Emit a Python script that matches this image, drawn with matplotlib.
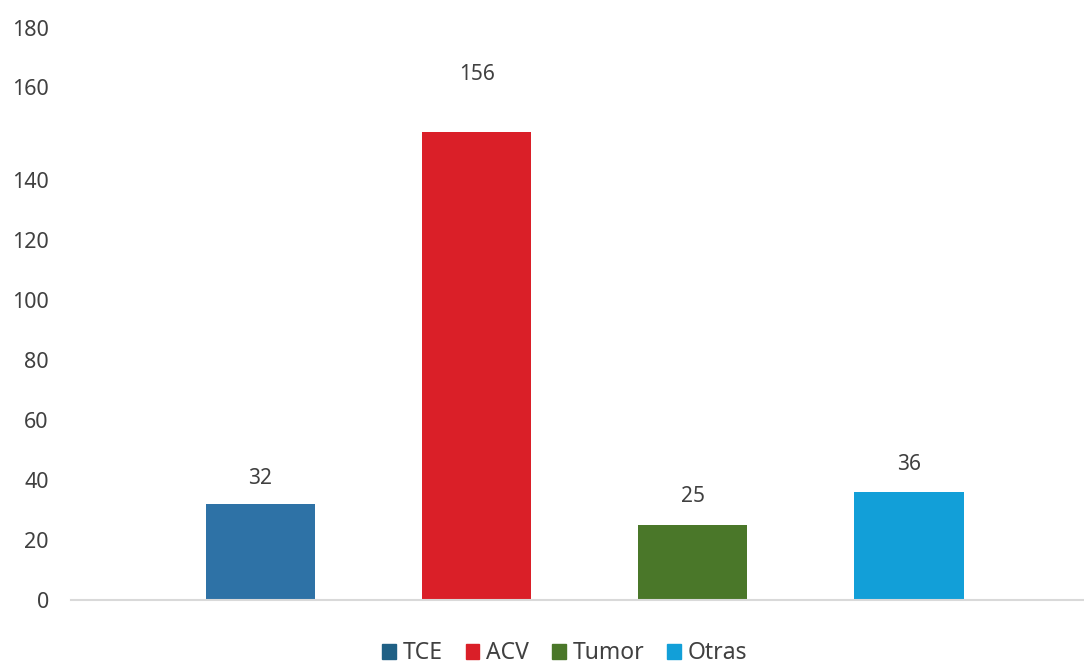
import matplotlib
matplotlib.use("Agg")
import matplotlib.pyplot as plt
from matplotlib.patches import Patch

plt.rcParams['font.family'] = ['Noto Sans', 'DejaVu Sans']

# data
categories = ["TCE", "ACV", "Tumor", "Otras"]
values = [32, 156, 25, 36]
colors = ["#2E72A6", "#DA1F28", "#4A7729", "#129FD8"]
legend_colors = ["#1F6085", "#DA1F28", "#4A7729", "#129FD8"]

# y tick labels as they sit in the original (top two are pushed up)
ytick_labels = ["0", "20", "40", "60", "80", "100", "120", "140", "160", "180"]
ytick_pos = [0, 20, 40, 60, 80, 100, 120, 140, 171, 190.7]
label_offsets = [26, 58, 28, 27]  # px above bar

txt = "#404040"

fig = plt.figure(figsize=(10.84, 6.68), dpi=100)
ax = fig.add_axes([71 / 1084, 68 / 668, 1013 / 1084, 600 / 668])

x = list(range(len(categories)))
ax.bar(x, values, width=0.505, color=colors, zorder=2)

for xi, v, off in zip(x, values, label_offsets):
    ax.annotate(str(v), (xi, v), xytext=(0, off * 0.72), textcoords="offset points",
                ha="center", va="center", fontsize=15, color=txt)

ax.set_xlim(-0.877, 3.81)
ax.set_ylim(0, 200)
ax.set_yticks(ytick_pos)
ax.set_yticklabels(ytick_labels)
ax.tick_params(axis="y", length=0, pad=16, labelsize=15.5, labelcolor=txt)
ax.set_xticks([])

for s in ["top", "right", "left"]:
    ax.spines[s].set_visible(False)
ax.spines["bottom"].set_color("#D9D9D9")
ax.spines["bottom"].set_linewidth(1.5)

handles = [Patch(color=c, label=n) for c, n in zip(legend_colors, categories)]
fig.legend(handles=handles, loc="center", bbox_to_anchor=(0.521, 0.022), ncol=4,
           frameon=False, fontsize=16.5, labelcolor=txt, handlelength=0.6,
           handleheight=0.6, handletextpad=0.3, columnspacing=1.0,
           borderpad=0, borderaxespad=0)

fig.savefig("out.png", dpi=100)
